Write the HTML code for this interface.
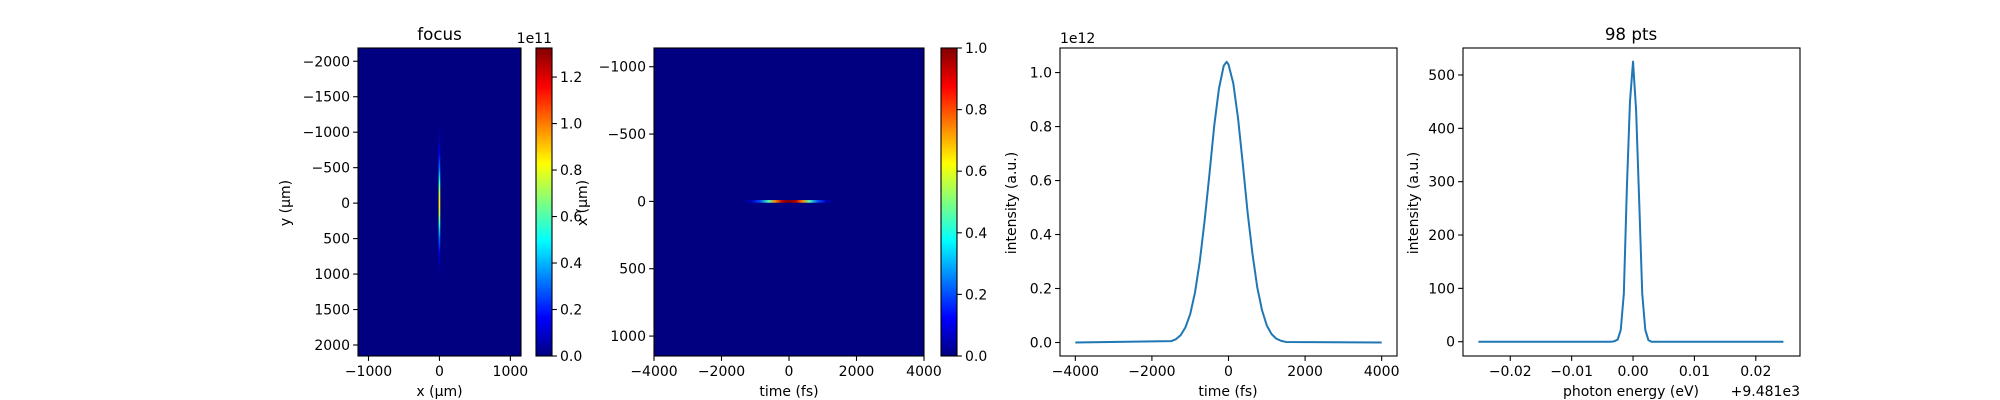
<!DOCTYPE html>
<html><head><meta charset="utf-8"><style>
body{margin:0;background:#fff;}
svg{display:block;font-family:"DejaVu Sans","Liberation Sans",sans-serif;}
</style></head><body>
<svg id="fig" width="2000" height="400" viewBox="0 0 2000 400" xmlns="http://www.w3.org/2000/svg"></svg>
<script>
// ---- data ----
const focusProfileY = [-1100,-900,-700,-500,-300,-150,0,150,300,500,700,900,1100];
const focusProfileV = [0,0.05,0.15,0.3,0.55,0.75,0.85,0.75,0.55,0.3,0.12,0.04,0];
const streakT = [-1350,-1100,-850,-600,-400,-200,0,200,400,600,850,1100,1350];
const streakV = [0,0.06,0.2,0.45,0.75,0.95,1.0,0.95,0.75,0.45,0.2,0.06,0];
const timeT = [-4000,-1500,-1375,-1250,-1125,-1000,-875,-750,-625,-500,-375,-250,-125,-50,0,125,250,375,500,625,750,875,1000,1125,1250,1375,1500,4000];
const timeI = [0,0.005,0.012,0.027,0.056,0.105,0.185,0.30,0.45,0.62,0.80,0.94,1.025,1.04,1.03,0.96,0.83,0.66,0.48,0.33,0.205,0.12,0.063,0.031,0.014,0.006,0.002,0];
const specE = [-0.0252,-0.0035,-0.0030,-0.0025,-0.0020,-0.0015,-0.0010,-0.0005,0,0.0005,0.0010,0.0015,0.0020,0.0025,0.0030,0.0245];
const specI = [0,0,1,4,22,90,290,450,525,434,265,90,22,3,0,0];
const cb1Ticks = [0,0.2,0.4,0.6,0.8,1.0,1.2];
const cb2Ticks = [0,0.2,0.4,0.6,0.8,1.0];

const NS="http://www.w3.org/2000/svg";
const svg=document.getElementById('fig');
function el(tag,attrs,parent){const e=document.createElementNS(NS,tag);for(const k in attrs)e.setAttribute(k,attrs[k]);(parent||svg).appendChild(e);return e;}
function lin(d0,d1,r0,r1){return v=>r0+(v-d0)*(r1-r0)/(d1-d0);}
function jet(t){t=Math.max(0,Math.min(1,t));const c=x=>Math.round(255*Math.max(0,Math.min(1,x)));return `rgb(${c(1.5-Math.abs(4*t-3))},${c(1.5-Math.abs(4*t-2))},${c(1.5-Math.abs(4*t-1))})`;}
function txt(x,y,s,anchor,size,rot,name){const t=el('text',{x:x,y:y,'font-size':size||14,'text-anchor':anchor||'middle',fill:'#000'});if(rot)t.setAttribute('transform',`rotate(-90 ${x} ${y})`);t.textContent=s;

return t;}
function frame(x0,y0,x1,y1,name){const r=el('rect',{x:x0,y:y0,width:x1-x0,height:y1-y0,fill:'none',stroke:'#000','stroke-width':1.1});

}
function xticks(vals,sx,yb,fmt,name){vals.forEach(v=>{const x=sx(v);const l=el('line',{x1:x,x2:x,y1:yb,y2:yb+4.9,stroke:'#000','stroke-width':1.1});


txt(x,yb+20,fmt(v),'middle',14,false,name+'-tick-label');});}
function yticks(vals,sy,xl,fmt,name,right){vals.forEach(v=>{const y=sy(v);const x2=right?xl+4.9:xl-4.9;const l=el('line',{x1:xl,x2:x2,y1:y,y2:y,stroke:'#000','stroke-width':1.1});


txt(right?xl+8:xl-8,y+5,fmt(v),right?'start':'end',14,false,name+'-tick-label');});}
const mfmt=v=>String(v).replace('-','\u2212');
const T=48,B=356;
let gid=0;
function gradient(x1,y1,x2,y2,stops){const id='g'+(gid++);let defs=svg.querySelector('defs')||el('defs',{});const g=el('linearGradient',{id:id,gradientUnits:'userSpaceOnUse',x1:x1,y1:y1,x2:x2,y2:y2},defs);stops.forEach(s=>el('stop',{offset:s[0],'stop-color':s[1]},g));return id;}

// ---- Panel 1: focus ----
{const sx=lin(-1148,1150,358,521), sy=lin(-2187,2155,T,B);
const bg=el('rect',{x:358,y:T,width:163,height:B-T,fill:'#000080'});


const y0=sy(focusProfileY[0]),y1=sy(focusProfileY[focusProfileY.length-1]);
const id=gradient(0,y0,0,y1,focusProfileY.map((y,i)=>[(sy(y)-y0)/(y1-y0),jet(focusProfileV[i]/1.325)]));
const s=el('rect',{x:sx(-12),y:y0,width:sx(12)-sx(-12),height:y1-y0,fill:`url(#${id})`});


frame(358,T,521,B,'focus-axes');
xticks([-1000,0,1000],sx,B,mfmt,'focus-x');
yticks([-2000,-1500,-1000,-500,0,500,1000,1500,2000],sy,358,mfmt,'focus-y');
txt(439.5,40,'focus','middle',16.7,false,'focus-title');
txt(439.5,396,'x (\u03bcm)','middle',14,false,'focus-x-axis-title');
txt(290,203,'y (\u03bcm)','middle',14,true,'focus-y-axis-title');
const cy=lin(0,1.325,B,T);
const cid=gradient(0,B,0,T,[0,0.125,0.375,0.625,0.875,1].map(t=>[t,jet(t)]));
const cb=el('rect',{x:536,y:T,width:16,height:B-T,fill:`url(#${cid})`});


frame(536,T,552,B,'focus-colorbar-frame');
yticks(cb1Ticks,cy,552,v=>v.toFixed(1),'focus-colorbar',true);
txt(552,43,'1e11','end',14,false,'focus-colorbar-offset');
}
// ---- Panel 2: time vs x ----
{const sx=lin(-4000,4000,654,924), sy=lin(-1139,1148,T,B);
const bg=el('rect',{x:654,y:T,width:270,height:B-T,fill:'#000080'});


const x0=sx(streakT[0]),x1=sx(streakT[streakT.length-1]);
const id=gradient(x0,0,x1,0,streakT.map((t,i)=>[(sx(t)-x0)/(x1-x0),jet(streakV[i])]));
const s=el('rect',{x:x0,y:sy(-10),width:x1-x0,height:sy(10)-sy(-10),fill:`url(#${id})`});


frame(654,T,924,B,'time-space-axes');
xticks([-4000,-2000,0,2000,4000],sx,B,mfmt,'time-space-x');
yticks([-1000,-500,0,500,1000],sy,654,mfmt,'time-space-y');
txt(789,396,'time (fs)','middle',14,false,'time-space-x-axis-title');
txt(587,203,'x (\u03bcm)','middle',14,true,'time-space-y-axis-title');
const cy=lin(0,1,B,T);
const cid=gradient(0,B,0,T,[0,0.125,0.375,0.625,0.875,1].map(t=>[t,jet(t)]));
const cb=el('rect',{x:941,y:T,width:16,height:B-T,fill:`url(#${cid})`});


frame(941,T,957,B,'time-space-colorbar-frame');
yticks(cb2Ticks,cy,957,v=>v.toFixed(1),'time-space-colorbar',true);
}
// ---- Panel 3: intensity vs time ----
{const sx=lin(-4400,4400,1060,1397), sy=lin(-0.05,1.091,B,T);
frame(1060,T,1397,B,'time-profile-axes');
const p=el('polyline',{points:timeT.map((t,i)=>sx(t).toFixed(2)+','+sy(timeI[i]).toFixed(2)).join(' '),fill:'none',stroke:'#1f77b4','stroke-width':2,'stroke-linejoin':'round'});


xticks([-4000,-2000,0,2000,4000],sx,B,mfmt,'time-profile-x');
yticks([0,0.2,0.4,0.6,0.8,1.0],sy,1060,v=>v.toFixed(1),'time-profile-y');
txt(1060,43,'1e12','start',14,false,'time-profile-offset');
txt(1228,396,'time (fs)','middle',14,false,'time-profile-x-axis-title');
txt(1016,203,'intensity (a.u.)','middle',14,true,'time-profile-y-axis-title');
}
// ---- Panel 4: spectrum ----
{const sx=lin(-0.0277,0.0272,1463,1800), sy=lin(-26.8,550.6,B,T);
frame(1463,T,1800,B,'spectrum-axes');
const p=el('polyline',{points:specE.map((e,i)=>sx(e).toFixed(2)+','+sy(specI[i]).toFixed(2)).join(' '),fill:'none',stroke:'#1f77b4','stroke-width':2,'stroke-linejoin':'round'});


xticks([-0.02,-0.01,0,0.01,0.02],sx,B,v=>mfmt(v.toFixed(2)),'spectrum-x');
yticks([0,100,200,300,400,500],sy,1463,v=>String(v),'spectrum-y');
txt(1631,40,'98 pts','middle',16.7,false,'spectrum-title');
txt(1631,396,'photon energy (eV)','middle',14,false,'spectrum-x-axis-title');
txt(1800,396,'+9.481e3','end',14,false,'spectrum-x-offset');
txt(1418,203,'intensity (a.u.)','middle',14,true,'spectrum-y-axis-title');
}
</script>
</body></html>
